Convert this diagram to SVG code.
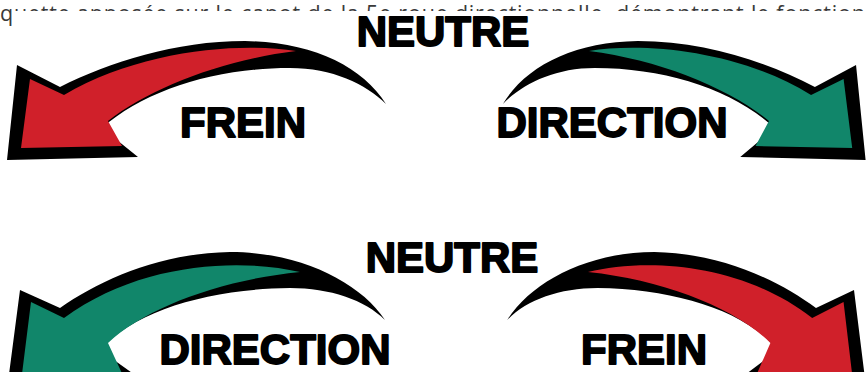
<svg xmlns="http://www.w3.org/2000/svg" xmlns:xlink="http://www.w3.org/1999/xlink" width="866" height="372" viewBox="0 0 866 372">
<style>
.lbl{font-family:"Liberation Sans",Arial,sans-serif;font-weight:bold;font-size:42px;fill:#000;stroke:#000;stroke-width:1.8;stroke-linejoin:round}
.cap{font-family:"Open Sans","Noto Sans",sans-serif;font-size:21.5px;letter-spacing:0.8px;fill:#3a3a3a}
.ol{fill:#000}
.red{fill:#d0202a}
.green{fill:#11866a}
</style>
<defs>
<clipPath id="capClip">
<rect x="0" y="0" width="866" height="11"/>
<rect x="0" y="0" width="14" height="30"/>
</clipPath>
<g id="arcTop">
<path class="ol" d="M386 104 C362 66 312 42 245 41 C175 41 110 62 60 87 L17 65 L7 160 L138 157 L102 128 C145 90 215 68 290 68 C332 68 366 84 386 104 Z"/>
<path d="M64 95 L30 79 L21 148 L122 146 L108 121 C150 88 222 60 296 51 C240 42 140 50 64 95 Z"/>
</g>
<g id="arcBottom">
<path class="ol" d="M385 320 C360 282 300 252 230 252 C160 253 100 280 60 308 L20 290 L8 382 L142 380 L100 350 C135 310 210 289 290 288 C330 288 365 300 385 320 Z"/>
<path d="M64 318 L31 302 L21 382 L126 382 L108 343 C145 308 220 280 300 272 C240 258 140 262 64 318 Z"/>
</g>
</defs>
<rect width="866" height="372" fill="#fff"/>
<g id="caption" clip-path="url(#capClip)">
<text class="cap" x="0" y="21">quette apposée sur le capot de la 5e roue directionnelle, démontrant le fonctionnement</text>
</g>
<g id="connectors">
<g id="arrow-top-left"><use xlink:href="#arcTop" class="red"/></g>
<g id="arrow-top-right"><use xlink:href="#arcTop" class="green" transform="matrix(-0.957 0 0 1 872.3 0)"/></g>
<g id="arrow-bottom-left"><use xlink:href="#arcBottom" class="green"/></g>
<g id="arrow-bottom-right"><use xlink:href="#arcBottom" class="red" transform="matrix(-0.95 0 0 1 873 0)"/></g>
</g>
<g id="label-neutre-top"><text class="lbl" x="443" y="46" text-anchor="middle">NEUTRE</text></g>
<g id="label-frein-top"><text class="lbl" x="243" y="137" text-anchor="middle">FREIN</text></g>
<g id="label-direction-top"><text class="lbl" x="612" y="137" text-anchor="middle">DIRECTION</text></g>
<g id="label-neutre-bottom"><text class="lbl" x="452" y="272" text-anchor="middle">NEUTRE</text></g>
<g id="label-direction-bottom"><text class="lbl" x="275" y="364" text-anchor="middle">DIRECTION</text></g>
<g id="label-frein-bottom"><text class="lbl" x="644" y="364" text-anchor="middle">FREIN</text></g>
</svg>
